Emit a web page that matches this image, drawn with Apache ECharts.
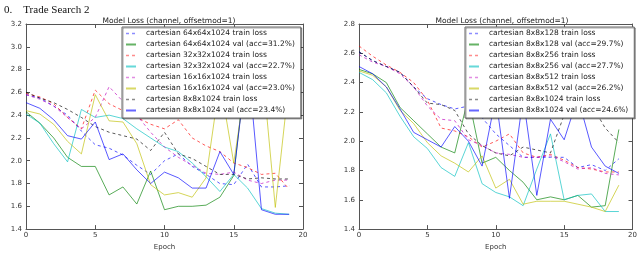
<!DOCTYPE html>
<html><head><meta charset="utf-8">
<script src="https://cdn.jsdelivr.net/npm/echarts@6/dist/echarts.min.js"></script>
<style>html,body{margin:0;padding:0;background:#fff}#c{width:640px;height:256px}</style>
</head><body><div id="c"></div>
<script>
const epochs = [0,1,2,3,4,5,6,7,8,9,10,11,12,13,14,15,16,17,18,19];

// Left chart
const leftNames = [
  'cartesian 64x64x1024 train loss',
  'cartesian 64x64x1024 val (acc=31.2%)',
  'cartesian 32x32x1024 train loss',
  'cartesian 32x32x1024 val (acc=22.7%)',
  'cartesian 16x16x1024 train loss',
  'cartesian 16x16x1024 val (acc=23.0%)',
  'cartesian 8x8x1024 train loss',
  'cartesian 8x8x1024 val (acc=23.4%)'
];
const lTrain64 = [2.58,2.55,2.48,2.40,2.26,2.14,2.11,2.05,1.96,1.88,2.00,2.06,1.95,1.88,1.80,1.79,1.97,1.77,1.77,1.78];
const lVal64   = [2.43,2.33,2.20,2.03,1.95,1.95,1.70,1.77,1.62,1.91,1.57,1.60,1.60,1.61,1.68,1.87,2.95,3.05,2.90,3.10];
const lTrain32 = [2.59,2.56,2.50,2.38,2.28,2.62,2.50,2.44,2.38,2.32,2.28,2.36,2.20,2.13,2.08,1.98,1.94,1.88,1.89,1.75];
const lVal32   = [2.41,2.33,2.15,1.99,2.45,2.38,2.40,2.37,2.28,2.20,2.12,2.08,1.98,1.86,1.73,1.88,1.76,1.58,1.54,1.53];
const lTrain16 = [2.58,2.54,2.48,2.38,2.28,2.38,2.65,2.52,2.40,2.25,2.12,2.03,1.96,1.89,1.88,1.90,1.83,1.80,1.83,1.83];
const lVal16   = [2.44,2.41,2.32,2.17,2.06,2.58,2.35,2.34,2.15,1.79,1.70,1.72,1.68,1.85,2.70,1.98,2.80,2.90,1.59,2.70];
const lTrain8  = [2.60,2.55,2.51,2.45,2.38,2.30,2.25,2.22,2.19,2.09,2.25,2.06,2.02,1.95,1.88,1.88,1.84,1.85,1.84,1.84];
const lVal8    = [2.51,2.46,2.36,2.22,2.19,2.34,2.01,2.06,1.92,1.80,1.90,1.85,1.76,1.76,2.08,1.88,2.90,1.57,1.53,1.53];

// Right chart
const rightNames = [
  'cartesian 8x8x128 train loss',
  'cartesian 8x8x128 val (acc=29.7%)',
  'cartesian 8x8x256 train loss',
  'cartesian 8x8x256 val (acc=27.7%)',
  'cartesian 8x8x512 train loss',
  'cartesian 8x8x512 val (acc=26.2%)',
  'cartesian 8x8x1024 train loss ',
  'cartesian 8x8x1024 val (acc=24.6%)'
];
const rTrain128  = [2.61,2.55,2.51,2.47,2.37,2.29,2.25,2.22,2.24,2.16,2.05,1.97,1.89,1.89,1.89,1.89,1.82,1.84,1.80,1.88];
const rVal128    = [2.49,2.46,2.40,2.23,2.14,2.05,1.96,1.92,2.30,1.85,1.89,1.80,1.72,1.60,1.62,1.60,1.63,1.55,1.56,2.08];
const rTrain256  = [2.65,2.58,2.52,2.47,2.40,2.28,2.09,2.07,2.03,1.96,2.00,2.05,1.92,1.89,1.91,1.87,1.82,1.81,1.79,1.79];
const rVal256    = [2.47,2.42,2.33,2.17,2.03,1.95,1.82,1.76,1.99,1.71,1.65,1.62,1.56,1.81,2.05,1.60,1.63,1.64,1.52,1.52];
const rTrain512  = [2.59,2.54,2.51,2.46,2.37,2.24,2.15,2.14,2.01,1.97,1.92,1.91,1.89,1.89,1.90,1.86,1.81,1.82,1.78,1.77];
const rVal512    = [2.48,2.45,2.37,2.21,2.12,1.99,1.90,1.85,1.79,1.90,1.68,1.74,1.57,1.59,1.59,1.59,1.57,1.55,1.52,1.70];
const rTrain1024 = [2.61,2.55,2.51,2.47,2.37,2.26,2.25,2.21,2.05,1.97,1.92,1.90,1.96,1.94,1.92,2.18,2.30,2.25,2.09,1.99];
const rVal1024   = [2.51,2.46,2.37,2.22,2.06,2.01,1.96,2.10,2.00,1.83,2.30,1.61,2.30,1.63,2.15,2.01,2.30,1.96,1.83,1.78];

const colors = ['#0000ff','#008000','#ff0000','#00bfbf','#bf00bf','#bfbf00','#000000','#0000ff'];
const leftData = [lTrain64,lVal64,lTrain32,lVal32,lTrain16,lVal16,lTrain8,lVal8];
const rightData = [rTrain128,rVal128,rTrain256,rVal256,rTrain512,rVal512,rTrain1024,rVal1024];

const FONT = 'DejaVu Sans';
const ICON_SOLID = 'path://M0,0L0.05,0L0,0.05Z M10,11L9.95,11L10,10.95Z M0,4.6L10,4.6L10,6.4L0,6.4Z';
const ICON_DASH  = 'path://M0,0L0.05,0L0,0.05Z M10,11L9.95,11L10,10.95Z M0,4.8L3,4.8L3,6.2L0,6.2Z M6,4.8L9,4.8L9,6.2L6,6.2Z';

function mkSeries(names, data, ax) {
  return names.map((n, i) => ({
    name: n, type: 'line', xAxisIndex: ax, yAxisIndex: ax,
    symbol: 'none', animation: false,
    data: epochs.map((e, k) => [e, data[i][k]]),
    lineStyle: { color: colors[i], width: 1, opacity: 0.65, type: i % 2 === 0 ? [3, 3] : 'solid' },
    itemStyle: { color: colors[i], opacity: 0.65 }
  }));
}
function xAx(grid, pos, labels) {
  return { type: 'value', gridIndex: grid, position: pos, min: 0, max: 20, interval: 5,
    name: labels ? 'Epoch' : '', nameLocation: 'middle', nameGap: 11,
    nameTextStyle: { fontFamily: FONT, fontSize: 7, color: '#333' },
    axisLine: { show: true, onZero: false, lineStyle: { color: '#555', width: 1 } },
    axisTick: { show: true, inside: true, length: 4, lineStyle: { color: '#555' } },
    axisLabel: { show: labels, fontFamily: FONT, fontSize: 7, color: '#333', margin: 3 },
    splitLine: { show: false } };
}
function yAx(grid, pos, max, labels) {
  return { type: 'value', gridIndex: grid, position: pos, min: 1.4, max: max, interval: 0.2,
    axisLine: { show: true, onZero: false, lineStyle: { color: '#555', width: 1 } },
    axisTick: { show: true, inside: true, length: 4, lineStyle: { color: '#555' } },
    axisLabel: { show: labels, fontFamily: FONT, fontSize: 7, color: '#333', margin: 4,
      formatter: v => v.toFixed(1) },
    splitLine: { show: false } };
}
function legend(names, left) {
  return { left: left, top: 27, orient: 'vertical', selectedMode: false,
    data: names.map((n, i) => ({ name: n, icon: i % 2 === 0 ? ICON_DASH : ICON_SOLID,
      itemStyle: { color: colors[i], opacity: i % 2 === 0 ? 0.45 : 0.6, borderWidth: 0 } })),
    itemWidth: 10, itemHeight: 11, itemGap: 0, padding: [1, 6, 2, 4],
    backgroundColor: '#ffffff', borderColor: '#666', borderWidth: 1,
    shadowColor: 'rgba(0,0,0,0.35)', shadowOffsetX: 1, shadowOffsetY: 1, shadowBlur: 0,
    textStyle: { fontFamily: FONT, fontSize: 7.5, color: '#222', padding: [0, 0, 0, 5] } };
}

const chart = echarts.init(document.getElementById('c'), null, { renderer: 'canvas' });
chart.setOption({
  animation: false,
  backgroundColor: '#fff',
  title: [
    { text: '0.    Trade Search 2', left: -1, top: 0,
      textStyle: { fontFamily: 'Liberation Serif', fontSize: 11, fontWeight: 'normal', color: '#111' } },
    { text: 'Model Loss (channel, offsetmod=1)', left: 164, top: 12, textAlign: 'center',
      textStyle: { fontFamily: FONT, fontSize: 7.5, fontWeight: 'normal', color: '#222' } },
    { text: 'Model Loss (channel, offsetmod=1)', left: 497, top: 12, textAlign: 'center',
      textStyle: { fontFamily: FONT, fontSize: 7.5, fontWeight: 'normal', color: '#222' } }
  ],
  grid: [
    { left: 26, width: 277, top: 24, height: 215, containLabel: false },
    { left: 359, width: 277, top: 24, height: 215, containLabel: false }
  ],
  xAxis: [xAx(0, 'bottom', true), xAx(0, 'top', false), xAx(1, 'bottom', true), xAx(1, 'top', false)],
  yAxis: [yAx(0, 'left', 3.2, true), yAx(0, 'right', 3.2, false), yAx(1, 'left', 2.8, true), yAx(1, 'right', 2.8, false)],
  legend: [legend(leftNames, 122), legend(rightNames, 465)],
  series: [].concat(mkSeries(leftNames, leftData, 0), mkSeries(rightNames, rightData, 2))
});
</script></body></html>
